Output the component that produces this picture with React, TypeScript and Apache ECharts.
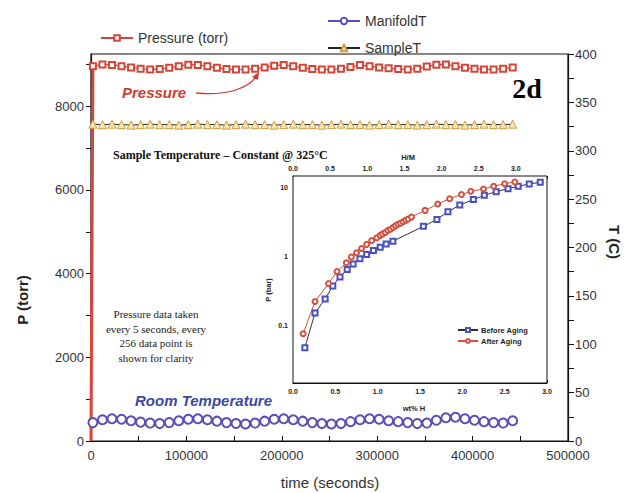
import React, { useEffect, useRef } from "react";
import * as echarts from "echarts";

// ---------- main chart data ----------
const TIME_S = [
  2000, 12000, 22000, 32000, 42000, 52000, 62000, 72000, 82000, 92000,
  102000, 112000, 122000, 132000, 142000, 152000, 162000, 172000, 182000, 192000,
  202000, 212000, 222000, 232000, 242000, 252000, 262000, 272000, 282000, 292000,
  302000, 312000, 322000, 332000, 342000, 352000, 362000, 372000, 382000, 392000,
  402000, 412000, 422000, 432000, 442000,
];
const PRESSURE_START = [0, 0];
const PRESSURE_TORR = [
  8960, 9000, 8990, 8960, 8930, 8900, 8880, 8890, 8920, 8960,
  8995, 8990, 8960, 8920, 8890, 8880, 8880, 8900, 8930, 8970,
  8990, 8960, 8920, 8890, 8880, 8880, 8900, 8940, 8985, 8960,
  8930, 8910, 8890, 8880, 8900, 8950, 8995, 9000, 8960, 8920,
  8900, 8880, 8880, 8900, 8930,
];
const MANIFOLD_START = [0, 14];
const MANIFOLD_T = [
  19, 22, 23, 22.5, 21, 19.5, 18.5, 18, 19, 21,
  22.5, 23, 22, 20.5, 19, 18, 17.5, 18.5, 20.5, 22.5,
  23, 22, 20.5, 19, 18, 17.5, 18, 20, 22, 23,
  22.5, 21, 20, 19, 18, 18.5, 21.5, 24, 24.5, 23,
  21.5, 20, 19, 18.5, 21,
];
const SAMPLE_T = [
  327.5, 327, 327.5, 327, 326.5,
  327, 327.5, 327, 327, 326.5,
  327, 327.5, 327, 327, 326.5,
  327, 327.5, 327, 327, 326.5,
  327, 327.5, 327, 327, 326.5,
  327, 327.5, 327, 327, 326.5,
  327, 327.5, 327, 327, 326.5,
  327, 327.5, 327, 327, 326.5,
  327, 327.5, 327, 327, 327.5,
];

// ---------- inset data ----------
const BEFORE_WT = [0.14, 0.26, 0.38, 0.47, 0.555, 0.64, 0.71, 0.79, 0.87, 0.95, 1.03, 1.10, 1.18, 1.54, 1.70, 1.83, 1.97, 2.13, 2.26, 2.40, 2.54, 2.66, 2.79, 2.92];
const BEFORE_P = [0.047, 0.15, 0.24, 0.37, 0.50, 0.64, 0.77, 0.92, 1.06, 1.21, 1.35, 1.5, 1.65, 2.7, 3.4, 4.4, 5.5, 6.6, 7.6, 8.6, 9.5, 10.3, 11.1, 11.8];
const AFTER_WT = [0.12, 0.26, 0.42, 0.52, 0.63, 0.69, 0.75, 0.81, 0.87, 0.93, 0.99, 1.03, 1.06, 1.09, 1.12, 1.15, 1.18, 1.21, 1.24, 1.27, 1.30, 1.33, 1.36, 1.40, 1.56, 1.71, 1.85, 1.99, 2.10, 2.25, 2.37, 2.50, 2.62];
const AFTER_P = [0.075, 0.22, 0.40, 0.60, 0.80, 0.97, 1.12, 1.29, 1.48, 1.68, 1.85, 2.0, 2.1, 2.2, 2.35, 2.45, 2.6, 2.75, 2.9, 3.0, 3.15, 3.3, 3.45, 3.7, 4.6, 5.7, 6.8, 7.8, 8.7, 9.4, 10.3, 11.2, 11.9];

const SANS = '"Liberation Sans", Arial, Helvetica, sans-serif';
const SERIF = '"Liberation Serif", "Times New Roman", "DejaVu Serif", serif';
const RED = "#d4463a";
const BLUE = "#5a4fb3";

export default function App() {
  const ref = useRef<HTMLDivElement>(null);
  useEffect(() => {
    if (!ref.current) return;
    const chart = echarts.init(ref.current, undefined, { renderer: "svg" });
    const pressureData: any[] = [{ value: PRESSURE_START, symbol: "none" }].concat(
      TIME_S.map((t, i) => ({ value: [t, PRESSURE_TORR[i]] }) as any)
    );
    const rampData = [PRESSURE_START, [TIME_S[0], PRESSURE_TORR[0]]];
    const manifoldData: any[] = [{ value: MANIFOLD_START, symbol: "none" }].concat(
      TIME_S.map((t, i) => ({ value: [t, MANIFOLD_T[i]] }) as any)
    );
    const sampleData = TIME_S.map((t, i) => [t, SAMPLE_T[i]]);
    const beforeData = BEFORE_WT.map((w, i) => [w, BEFORE_P[i]]);
    const afterData = AFTER_WT.map((w, i) => [w, AFTER_P[i]]);
    const isDecade = (v: number) => Math.abs(Math.log10(v) - Math.round(Math.log10(v))) < 1e-6;

    const mainLabel = { color: "#333", fontSize: 13, fontFamily: SANS };
    const insetLabel = { color: "#222", fontSize: 7, fontWeight: "bold" as const, fontFamily: SANS };

    chart.setOption({
      animation: false,
      backgroundColor: "#fff",
      grid: [
        { left: 91, right: 63, top: 54, bottom: 52, show: true, borderColor: "#111", borderWidth: 1.2, backgroundColor: "transparent" },
        { left: 293, top: 176, width: 254, height: 207, show: true, borderColor: "#111", borderWidth: 1, backgroundColor: "#fff", z: 5 },
      ],
      legend: [
        {
          data: ["Pressure (torr)"], left: 95, top: 26, itemWidth: 32, itemHeight: 7,
          textStyle: { color: "#333", fontSize: 14, fontFamily: SANS },
        },
        {
          data: ["ManifoldT", "SampleT"], orient: "vertical", left: 322, top: 9, itemWidth: 32, itemHeight: 8, itemGap: 13,
          textStyle: { color: "#333", fontSize: 14, fontFamily: SANS },
        },
        {
          data: ["Before Aging", "After Aging"], orient: "vertical", left: 452, top: 321, itemWidth: 20, itemHeight: 5, itemGap: 3,
          textStyle: { color: "#222", fontSize: 7.5, fontWeight: "bold", fontFamily: SANS, padding: [0, 0, 0, -2] },
          z: 10,
        },
      ],
      xAxis: [
        {
          type: "value", gridIndex: 0, min: 0, max: 500000, interval: 100000,
          axisLine: { show: true, lineStyle: { color: "#111", width: 1.2 } },
          axisTick: { show: true, inside: true, length: 5, lineStyle: { color: "#111" } },
          minorTick: { show: true, splitNumber: 2, length: 5, lineStyle: { color: "#111" } },
          axisLabel: { ...mainLabel, margin: 8, formatter: (v: number) => String(v) },
          splitLine: { show: false },
        },
        {
          type: "value", gridIndex: 1, min: 0, max: 3, interval: 0.5,
          axisLine: { show: true, lineStyle: { color: "#111" } },
          axisTick: { show: true, inside: true, length: 3, lineStyle: { color: "#111" } },
          minorTick: { show: true, splitNumber: 2, length: 2, lineStyle: { color: "#111" } },
          axisLabel: { ...insetLabel, margin: 5, formatter: (v: number) => v.toFixed(1) },
          splitLine: { show: false },
        },
        {
          type: "value", gridIndex: 1, position: "top", min: 0, max: 3.42, interval: 0.5,
          axisLine: { show: true, lineStyle: { color: "#111" } },
          axisTick: { show: true, inside: true, length: 3, lineStyle: { color: "#111" } },
          minorTick: { show: true, splitNumber: 2, length: 2, lineStyle: { color: "#111" } },
          axisLabel: { ...insetLabel, margin: 4, showMaxLabel: false, formatter: (v: number) => (v > 3.01 ? "" : v.toFixed(1)) },
          splitLine: { show: false },
        },
      ],
      yAxis: [
        {
          type: "value", gridIndex: 0, min: 0, max: 9250, interval: 1000,
          axisLine: { show: true, lineStyle: { color: "#111", width: 1.2 } },
          axisTick: { show: true, length: 5, lineStyle: { color: "#111" } },
          axisLabel: { ...mainLabel, margin: 7, showMaxLabel: false, formatter: (v: number) => (v % 2000 === 0 ? String(v) : "") },
          splitLine: { show: false },
        },
        {
          type: "value", gridIndex: 0, position: "right", min: 0, max: 400, interval: 50,
          axisLine: { show: true, lineStyle: { color: "#111", width: 1.2 } },
          axisTick: { show: true, length: 6, lineStyle: { color: "#111" } },
          minorTick: { show: true, splitNumber: 2, length: 6, lineStyle: { color: "#111" } },
          axisLabel: { ...mainLabel, margin: 7 },
          splitLine: { show: false },
        },
        {
          type: "log", logBase: 10, gridIndex: 1, min: 0.0145, max: 14.5,
          axisLine: { show: true, lineStyle: { color: "#111" } },
          axisTick: { show: true, inside: true, length: 3, lineStyle: { color: "#111" } },
          axisLabel: { ...insetLabel, margin: 5, showMinLabel: false, showMaxLabel: false, formatter: (v: number) => (isDecade(v) ? String(+v.toPrecision(3)) : "") },
          splitLine: { show: false },
        },
      ],
      series: [
        {
          name: "Pressure (torr)", type: "line", xAxisIndex: 0, yAxisIndex: 0, data: pressureData,
          symbol: "emptyRect", symbolSize: 6, z: 3,
          itemStyle: { color: RED, borderWidth: 1 }, lineStyle: { color: RED, width: 1.2 },
        },
        {
          name: "pressure ramp", type: "line", xAxisIndex: 0, yAxisIndex: 0, data: rampData,
          symbol: "none", z: 2, silent: true,
          lineStyle: { color: "#e0463a", width: 3 },
        },
        {
          name: "ManifoldT", type: "line", xAxisIndex: 0, yAxisIndex: 1, data: manifoldData,
          symbol: "emptyCircle", symbolSize: [9, 9], z: 3,
          itemStyle: { color: BLUE, borderWidth: 1 }, lineStyle: { color: BLUE, width: 1 },
        },
        {
          name: "SampleT", type: "line", xAxisIndex: 0, yAxisIndex: 1, data: sampleData,
          symbol: "triangle", symbolSize: 8, z: 3,
          itemStyle: { color: "#f6e6b4", borderColor: "#d29c3c", borderWidth: 1 }, lineStyle: { color: "#222", width: 1 },
        },
        {
          name: "Before Aging", type: "line", xAxisIndex: 1, yAxisIndex: 2, data: beforeData,
          symbol: "emptyRect", symbolSize: 5, z: 6,
          itemStyle: { color: "#4a4fc0", borderWidth: 1.2 }, lineStyle: { color: "#333", width: 1 },
        },
        {
          name: "After Aging", type: "line", xAxisIndex: 1, yAxisIndex: 2, data: afterData,
          symbol: "emptyCircle", symbolSize: 5, z: 6,
          itemStyle: { color: "#d4503f", borderWidth: 1.2 }, lineStyle: { color: "#d4503f", width: 1 },
        },
      ],
      graphic: [
        { type: "text", x: 22, y: 300, rotation: Math.PI / 2, style: { text: "P (torr)", textAlign: "center", textVerticalAlign: "middle", fill: "#222", font: `bold 15px ${SANS}` } },
        { type: "text", x: 614, y: 242, rotation: -Math.PI / 2, style: { text: "T (C)", textAlign: "center", textVerticalAlign: "middle", fill: "#222", font: `bold 15px ${SANS}` } },
        { type: "text", x: 330, y: 482, style: { text: "time (seconds)", textAlign: "center", textVerticalAlign: "middle", fill: "#333", font: `15px ${SANS}` } },
        { type: "text", x: 122, y: 92, style: { text: "Pressure", textAlign: "left", textVerticalAlign: "middle", fill: "#d23b2b", font: `italic bold 15px ${SANS}` } },
        { type: "bezierCurve", shape: { x1: 196, y1: 93, cpx1: 228, cpy1: 96, cpx2: 248, cpy2: 88, x2: 256, y2: 77 }, style: { stroke: "#d23b2b", lineWidth: 1.3, fill: "none" } },
        { type: "polygon", shape: { points: [[259, 72], [252, 77], [258, 80]] }, style: { fill: "#d23b2b" } },
        { type: "text", x: 527, y: 88, style: { text: "2d", textAlign: "center", textVerticalAlign: "middle", fill: "#000", font: `bold 28px ${SERIF}` } },
        { type: "text", x: 113, y: 155, style: { text: "Sample Temperature \u2013 Constant @ 325\u00B0C", textAlign: "left", textVerticalAlign: "middle", fill: "#111", font: `bold 12px ${SERIF}` } },
        { type: "text", x: 156, y: 336, style: { text: "Pressure data taken\nevery 5 seconds, every\n256 data point is\nshown for clarity", textAlign: "center", textVerticalAlign: "middle", fill: "#222", font: `11px ${SERIF}`, lineHeight: 14.5 } },
        { type: "text", x: 135, y: 400, style: { text: "Room Temperature", textAlign: "left", textVerticalAlign: "middle", fill: "#3d49a0", font: `italic bold 15px ${SANS}` } },
        { type: "text", x: 408, y: 157, z: 20, style: { text: "H/M", textAlign: "center", textVerticalAlign: "middle", fill: "#222", font: `bold 7.5px ${SANS}` } },
        { type: "text", x: 414, y: 408, z: 20, style: { text: "wt% H", textAlign: "center", textVerticalAlign: "middle", fill: "#222", font: `bold 7.5px ${SANS}` } },
        { type: "text", x: 268, y: 290, z: 20, rotation: Math.PI / 2, style: { text: "P (bar)", textAlign: "center", textVerticalAlign: "middle", fill: "#222", font: `bold 7.5px ${SANS}` } },
      ],
    });
    return () => chart.dispose();
  }, []);
  return <div ref={ref} style={{ position: "fixed", left: 0, top: 0, width: 631, height: 493 }} />;
}
